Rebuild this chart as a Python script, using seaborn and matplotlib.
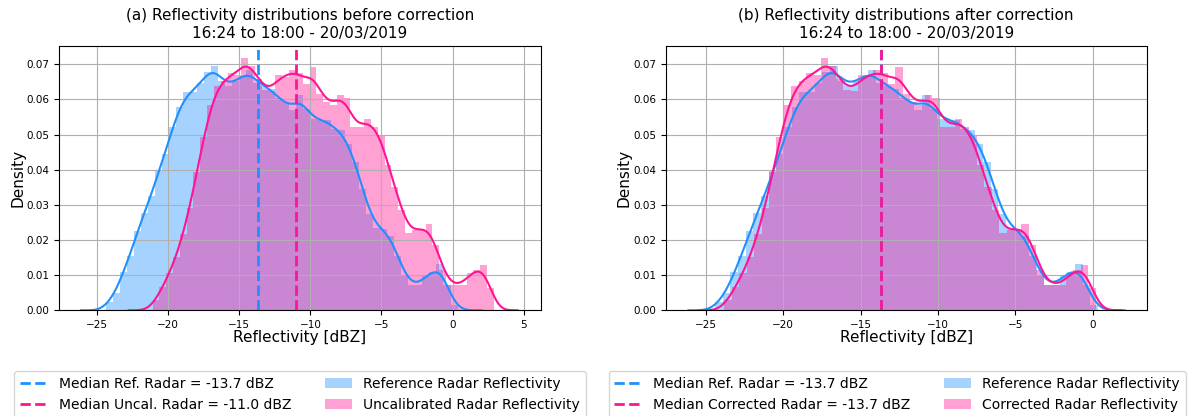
import matplotlib
matplotlib.use("Agg")
import matplotlib.pyplot as plt
import numpy as np
import pandas as pd
import seaborn as sns
from matplotlib.patches import Patch

""" Data read off the reference (density per bin) """
# reference radar reflectivity histogram [dBZ]
ref_bin_start = -24.4
ref_bin_width = 0.495
ref_density = [
    0.0025, 0.005, 0.011, 0.0157, 0.0228, 0.028, 0.0328, 0.040, 0.045, 0.0527,
    0.0584, 0.0627, 0.0627, 0.0655, 0.0684, 0.0703, 0.066, 0.0645, 0.066, 0.0675,
    0.069, 0.0655, 0.0646, 0.0637, 0.061, 0.0598, 0.0575, 0.062, 0.058, 0.055,
    0.0546, 0.0548, 0.052, 0.0518, 0.0477, 0.0427, 0.035, 0.0276, 0.0238, 0.0233,
    0.0214, 0.0157, 0.010, 0.0072, 0.0072, 0.010, 0.011, 0.0134, 0.0072, 0.0015,
]

# uncalibrated radar reflectivity histogram [dBZ]
uncal_bin_start = -21.1
uncal_bin_width = 0.48
uncal_density = [
    0.003, 0.0065, 0.0105, 0.015, 0.0215, 0.029, 0.039, 0.049, 0.058, 0.0635,
    0.065, 0.067, 0.0665, 0.0714, 0.069, 0.0655, 0.0624, 0.062, 0.0665, 0.066,
    0.068, 0.067, 0.064, 0.0689, 0.0613, 0.059, 0.058, 0.0608, 0.060, 0.0518,
    0.052, 0.0541, 0.0518, 0.0494, 0.041, 0.035, 0.0285, 0.0219, 0.0228, 0.0228,
    0.0243, 0.0185, 0.0115, 0.0072, 0.0072, 0.0072, 0.0105, 0.0115, 0.0129, 0.0063,
]

median_ref = -13.7
median_uncal = -11.0
median_corr = -13.7

titles = [
    "(a) Reflectivity distributions before correction\n16:24 to 18:00 - 20/03/2019",
    "(b) Reflectivity distributions after correction\n16:24 to 18:00 - 20/03/2019",
]
second_names = ["Uncal.", "Corrected"]
second_labels = ["Uncalibrated Radar Reflectivity", "Corrected Radar Reflectivity"]
xlims = [(-27.65, 6.2), (-27.6, 3.5)]
xticks = [np.arange(-25, 6, 5), np.arange(-25, 1, 5)]

ref_color = "dodgerblue"
other_color = "deeppink"


def hist_frame(start, width, density):
    edges = start + width * np.arange(len(density) + 1)
    centers = (edges[:-1] + edges[1:]) / 2
    return pd.DataFrame({"reflectivity": centers, "density": density}), list(edges)


fig = plt.figure(figsize=(11.99, 4.16), dpi=100)
axes = [
    fig.add_axes([0.0495, 0.2541, 0.4015, 0.6353]),
    fig.add_axes([0.5552, 0.2541, 0.4012, 0.6353]),
]

ref_df, ref_edges = hist_frame(ref_bin_start, ref_bin_width, ref_density)
shift = [0.0, median_corr - median_uncal]
medians = [median_uncal, median_corr]
legend_x = [0.5, 0.481]

for i, ax in enumerate(axes):
    other_df, other_edges = hist_frame(uncal_bin_start + shift[i], uncal_bin_width, uncal_density)
    for df, edges, color in [(ref_df, ref_edges, ref_color), (other_df, other_edges, other_color)]:
        sns.histplot(
            data=df, x="reflectivity", weights="density", bins=edges, stat="density",
            kde=True, kde_kws={"bw_adjust": 0.2, "cut": 3}, line_kws={"linewidth": 1.5},
            color=color, alpha=0.4, linewidth=0, ax=ax,
        )
    l1 = ax.axvline(median_ref, color=ref_color, linestyle="--", linewidth=2,
                    label=f"Median Ref. Radar = {median_ref:.1f} dBZ")
    l2 = ax.axvline(medians[i], color=other_color, linestyle="--", linewidth=2,
                    label=f"Median {second_names[i]} Radar = {medians[i]:.1f} dBZ")

    ax.set(xlim=xlims[i], ylim=(0, 0.0752), xticks=xticks[i],
           yticks=np.arange(0, 0.071, 0.01))
    ax.yaxis.set_major_formatter(matplotlib.ticker.FormatStrFormatter("%.2f"))
    ax.grid(True, color="#b0b0b0", linewidth=0.8)
    ax.tick_params(labelsize=7.5)
    ax.set_xlabel("Reflectivity [dBZ]", fontsize=11, labelpad=0)
    ax.set_ylabel("Density", fontsize=11, labelpad=1)
    ax.set_title(titles[i], fontsize=11)

    handles = [
        l1, l2,
        Patch(facecolor=ref_color, alpha=0.4, label="Reference Radar Reflectivity"),
        Patch(facecolor=other_color, alpha=0.4, label=second_labels[i]),
    ]
    ax.legend(handles=handles, ncol=2, fontsize=10, loc="upper center",
              bbox_to_anchor=(legend_x[i], -0.205), columnspacing=2.4)

fig.savefig("out.png", dpi=100)
